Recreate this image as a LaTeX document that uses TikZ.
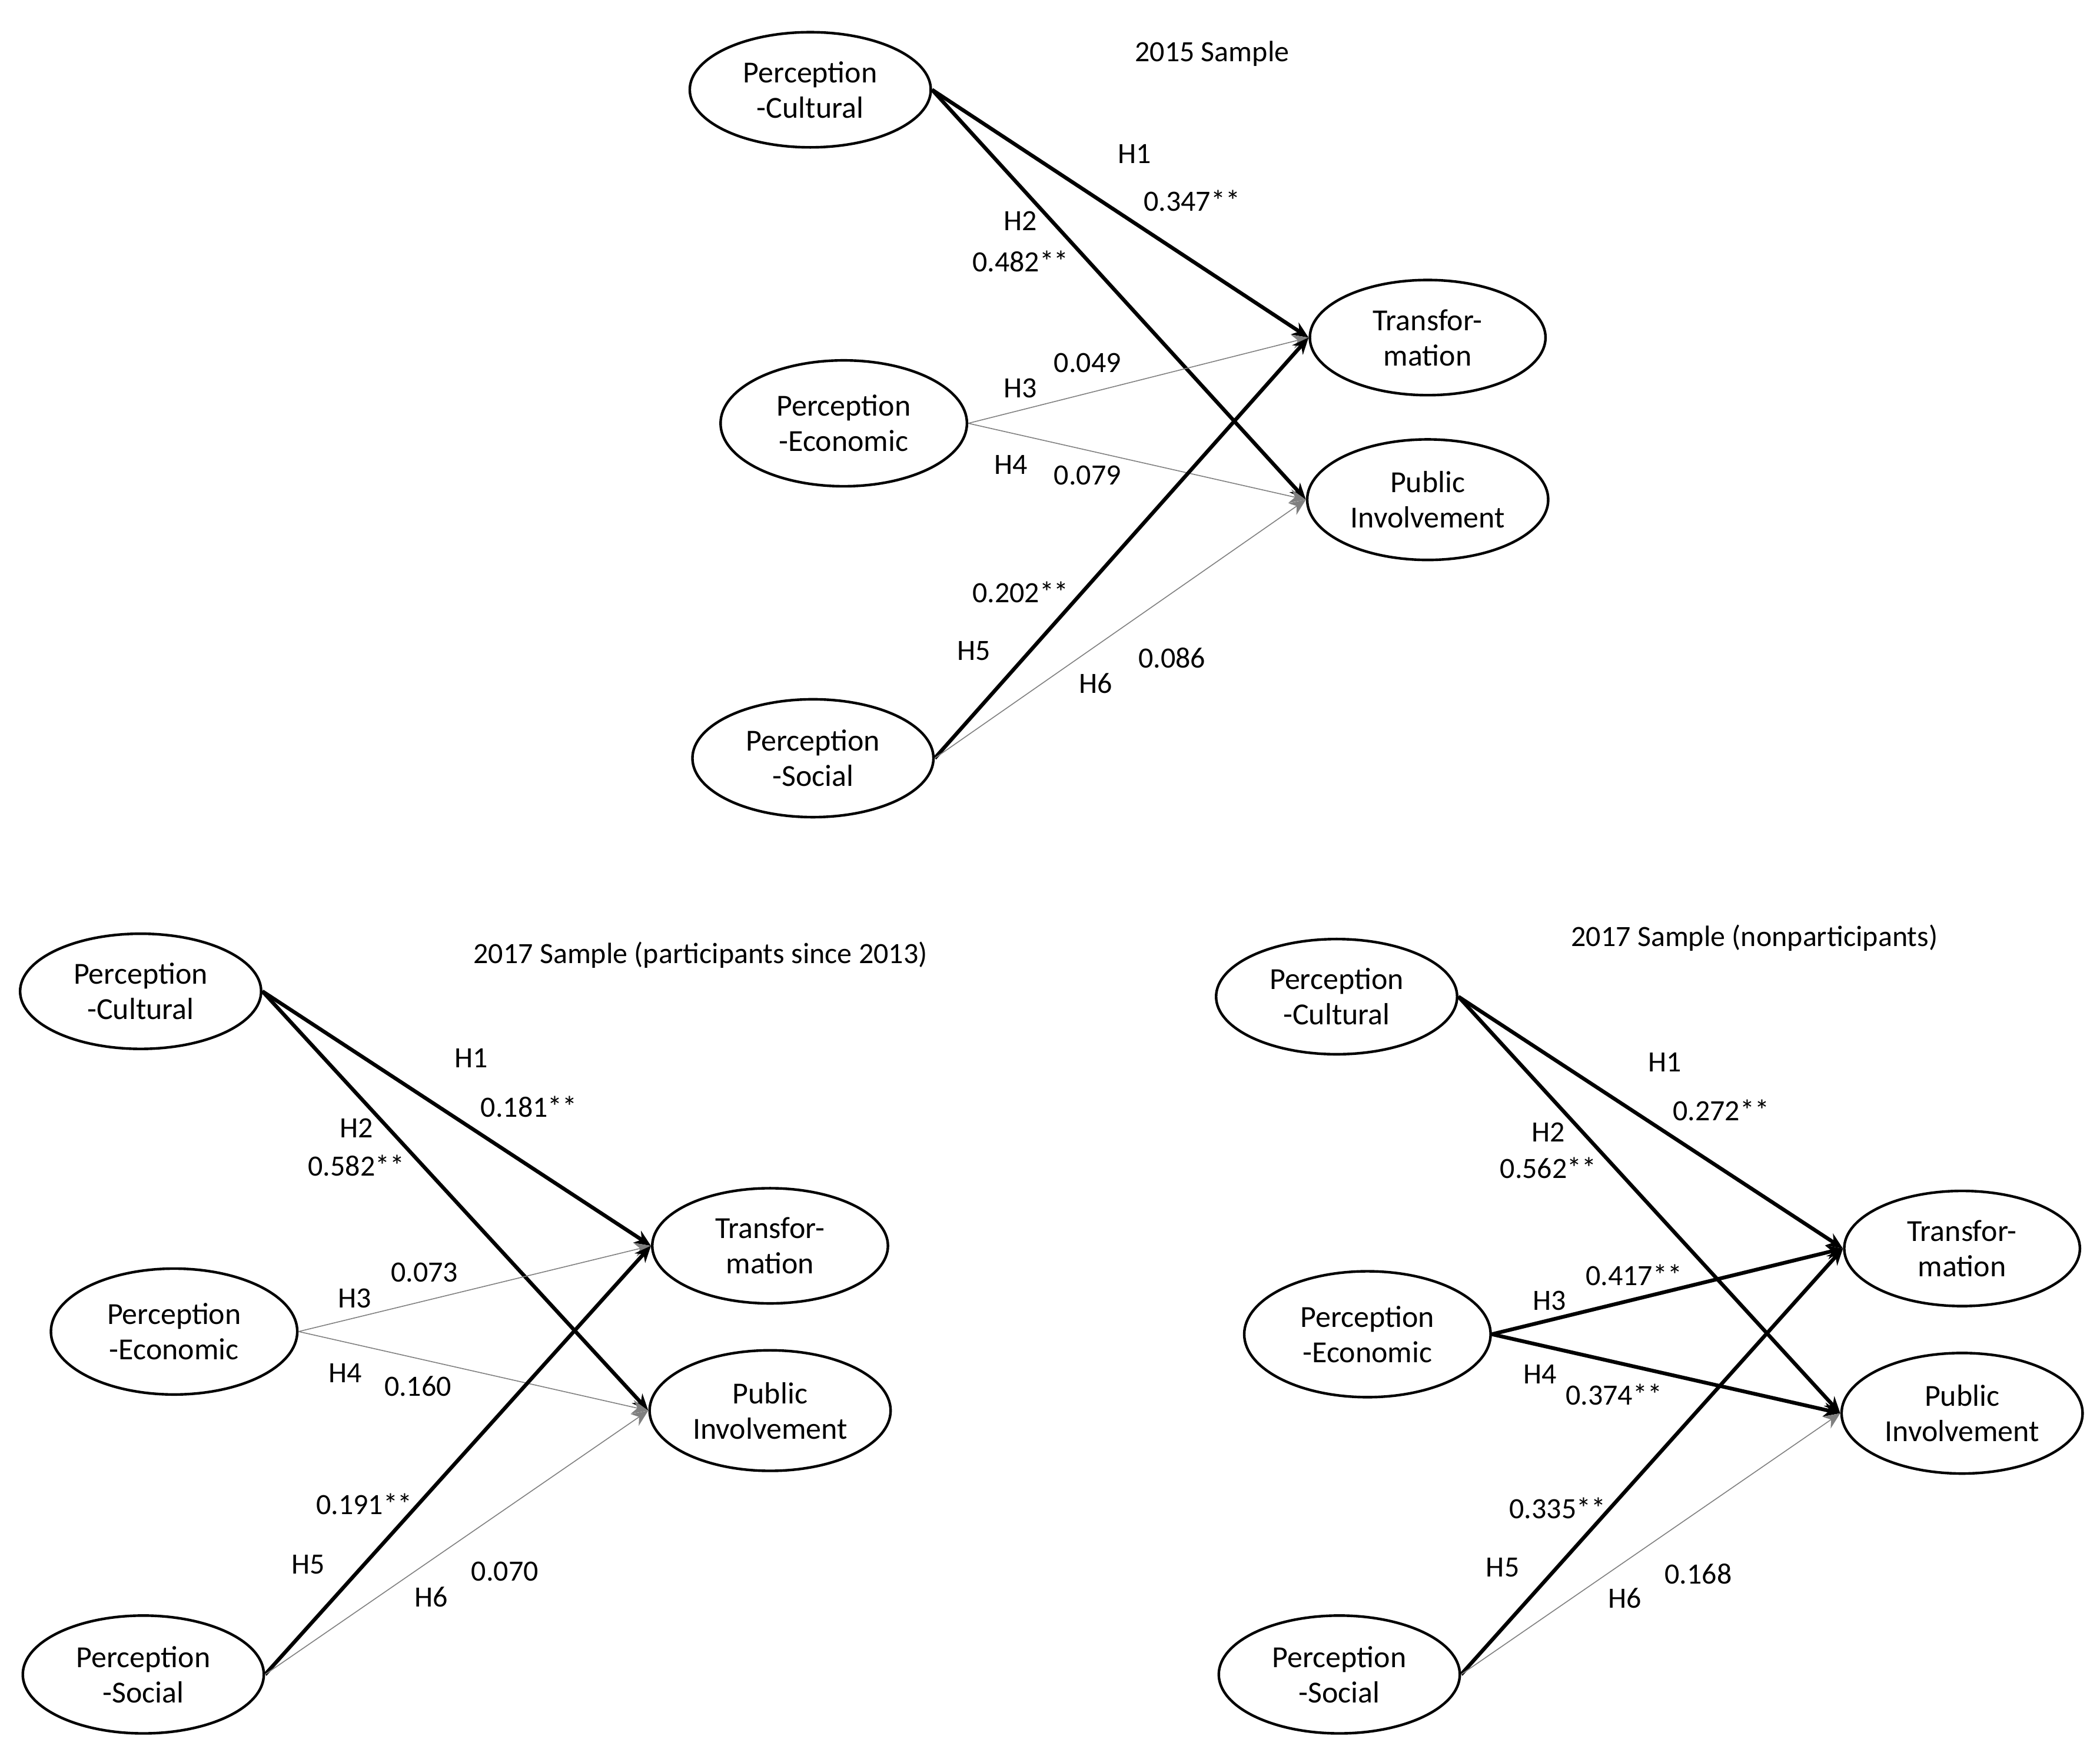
\documentclass[tikz,border=0pt]{standalone}
\usepackage{fontspec}
\setmainfont{Carlito}
\usetikzlibrary{shapes.geometric,arrows.meta}
\begin{document}
\begin{tikzpicture}[x=0.02cm,y=-0.02cm,
  lat/.style={ellipse,draw,line width=1.1pt,minimum width=180\pgflinewidth,inner sep=0pt,align=center,font=\fontsize{13}{15}\selectfont},
  strong/.style={line width=1.6pt,-{Stealth[length=7pt,width=6pt]}},
  weak/.style={line width=0.4pt,draw=gray,-{Stealth[length=7pt,width=6pt]}},
  lab/.style={font=\fontsize{12.5}{14}\selectfont,inner sep=0pt},
  ttl/.style={font=\fontsize{12.5}{14}\selectfont,inner sep=0pt}]
\useasboundingbox (0,0) rectangle (1568,1313);
\tikzset{lat/.append style={minimum width=3.6cm,minimum height=1.72cm}}
% ---------- 2015
\node[ttl] at (905,40) {2015 Sample};
\node[lat] (apc) at (605,67) {Perception\\-Cultural};
\node[lat,minimum width=3.68cm,minimum height=1.88cm] (ape) at (630,316) {Perception\\-Economic};
\node[lat,minimum height=1.76cm] (aps) at (607,566) {Perception\\-Social};
\node[lat,minimum width=3.52cm] (at) at (1066,252) {Transfor-\\mation};
\node[lat,minimum height=1.8cm] (api) at (1066,373) {Public\\Involvement};
\draw[strong] (apc.east) -- (at.west);
\draw[strong] (apc.east) -- (api.west);
\draw[weak] (ape.east) -- (at.west);
\draw[weak] (ape.east) -- (api.west);
\draw[strong] (aps.east) -- (at.west);
\draw[weak] (aps.east) -- (api.west);
\node[lab] at (847,115) {H1};
\node[lab] at (890,150) {0.347**};
\node[lab] at (762,165) {H2};
\node[lab] at (762,195) {0.482**};
\node[lab] at (812,271) {0.049};
\node[lab] at (762,290) {H3};
\node[lab] at (755,347) {H4};
\node[lab] at (812,355) {0.079};
\node[lab] at (762,442) {0.202**};
\node[lab] at (727,486) {H5};
\node[lab] at (875,491) {0.086};
\node[lab] at (818,510) {H6};
% ---------- 2017 participants
\node[ttl] at (523,713) {2017 Sample (participants since 2013)};
\node[lat] (bpc) at (105,740) {Perception\\-Cultural};
\node[lat,minimum width=3.68cm,minimum height=1.88cm] (bpe) at (130,994) {Perception\\-Economic};
\node[lat,minimum height=1.76cm] (bps) at (107,1250) {Perception\\-Social};
\node[lat,minimum width=3.52cm] (bt) at (575,930) {Transfor-\\mation};
\node[lat,minimum height=1.8cm] (bpi) at (575,1053) {Public\\Involvement};
\draw[strong] (bpc.east) -- (bt.west);
\draw[strong] (bpc.east) -- (bpi.west);
\draw[weak] (bpe.east) -- (bt.west);
\draw[weak] (bpe.east) -- (bpi.west);
\draw[strong] (bps.east) -- (bt.west);
\draw[weak] (bps.east) -- (bpi.west);
\node[lab] at (352,790) {H1};
\node[lab] at (395,826) {0.181**};
\node[lab] at (266,842) {H2};
\node[lab] at (266,870) {0.582**};
\node[lab] at (317,950) {0.073};
\node[lab] at (265,969) {H3};
\node[lab] at (258,1025) {H4};
\node[lab] at (312,1035) {0.160};
\node[lab] at (272,1123) {0.191**};
\node[lab] at (230,1168) {H5};
\node[lab] at (377,1173) {0.070};
\node[lab] at (322,1192) {H6};
% ---------- 2017 nonparticipants
\node[ttl] at (1310,700) {2017 Sample (nonparticipants)};
\node[lat] (cpc) at (998,744) {Perception\\-Cultural};
\node[lat,minimum width=3.68cm,minimum height=1.88cm] (cpe) at (1021,996) {Perception\\-Economic};
\node[lat,minimum height=1.76cm] (cps) at (1000,1250) {Perception\\-Social};
\node[lat,minimum width=3.52cm] (ct) at (1465,932) {Transfor-\\mation};
\node[lat,minimum height=1.8cm] (cpi) at (1465,1055) {Public\\Involvement};
\draw[strong] (cpc.east) -- (ct.west);
\draw[strong] (cpc.east) -- (cpi.west);
\draw[strong] (cpe.east) -- (ct.west);
\draw[strong] (cpe.east) -- (cpi.west);
\draw[strong] (cps.east) -- (ct.west);
\draw[weak] (cps.east) -- (cpi.west);
\node[lab] at (1243,793) {H1};
\node[lab] at (1285,829) {0.272**};
\node[lab] at (1156,845) {H2};
\node[lab] at (1156,872) {0.562**};
\node[lab] at (1220,952) {0.417**};
\node[lab] at (1157,971) {H3};
\node[lab] at (1150,1026) {H4};
\node[lab] at (1205,1041) {0.374**};
\node[lab] at (1163,1126) {0.335**};
\node[lab] at (1122,1170) {H5};
\node[lab] at (1268,1175) {0.168};
\node[lab] at (1213,1193) {H6};
\end{tikzpicture}
\end{document}
